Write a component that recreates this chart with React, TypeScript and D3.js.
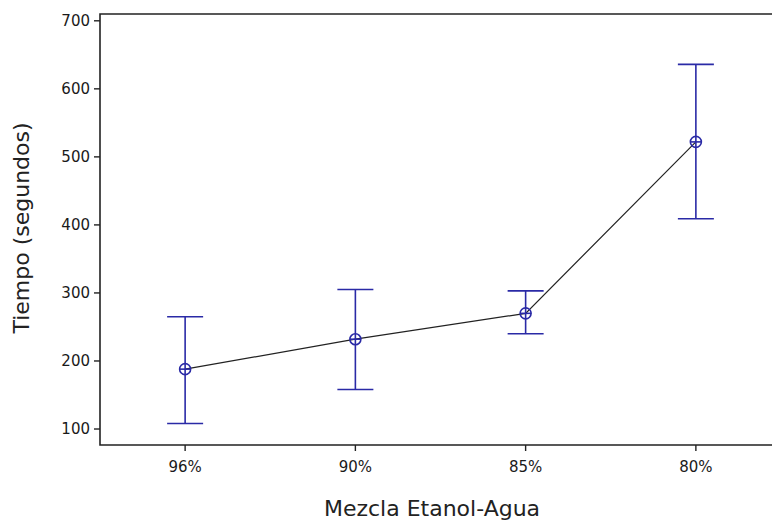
import * as d3 from "d3";

const mixes = ["96%", "90%", "85%", "80%"];
const means = [188, 232, 270, 522];
const upper = [265, 305, 303, 636];
const lower = [108, 158, 240, 409];
const yTicks = [100, 200, 300, 400, 500, 600, 700];

const W = 772;
const H = 521;
const margin = { top: 14, left: 100, bottom: 76 };
const font = "'DejaVu Sans', Verdana, sans-serif";
const blue = "#2a2aa6";

export default function App() {
  const x = d3
    .scaleBand()
    .domain(mixes)
    .range([margin.left, margin.left + 681])
    .padding(0);

  const y = d3
    .scaleLinear()
    .domain([76.5, 710])
    .range([H - margin.bottom, margin.top]);

  const cx = (m: string) => (x(m) ?? 0) + x.bandwidth() / 2;
  const bottom = H - margin.bottom;

  const line = d3
    .line<number>()
    .x((_, i) => cx(mixes[i]))
    .y((d) => y(d));

  return (
    <div style={{ position: "fixed", left: 0, top: 0 }}>
      <svg width={W} height={H} style={{ display: "block", background: "#fff" }}>
        {/* frame */}
        <path
          d={`M${W},${margin.top}H${margin.left}V${bottom}H${W}`}
          fill="none"
          stroke="#222"
          strokeWidth={1.6}
        />

        {/* y axis ticks */}
        {yTicks.map((t) => (
          <g key={t} transform={`translate(${margin.left},${y(t)})`}>
            <line x1={-6} x2={0} stroke="#222" strokeWidth={1.4} />
            <text
              x={-10}
              dy="0.36em"
              textAnchor="end"
              fontFamily={font}
              fontSize={15}
              fill="#1a1a1a"
            >
              {t}
            </text>
          </g>
        ))}

        {/* x axis ticks */}
        {mixes.map((m) => (
          <g key={m} transform={`translate(${cx(m)},${bottom})`}>
            <line y1={0} y2={6} stroke="#222" strokeWidth={1.4} />
            <text
              y={27}
              textAnchor="middle"
              fontFamily={font}
              fontSize={15}
              fill="#1a1a1a"
            >
              {m}
            </text>
          </g>
        ))}

        {/* mean line */}
        <path d={line(means) ?? ""} fill="none" stroke="#222" strokeWidth={1.2} />

        {/* error bars */}
        {mixes.map((m, i) => {
          const px = cx(m);
          return (
            <g key={m} stroke={blue} strokeWidth={1.6} fill="none">
              <line x1={px} x2={px} y1={y(upper[i])} y2={y(lower[i])} />
              <line x1={px - 18} x2={px + 18} y1={y(upper[i])} y2={y(upper[i])} />
              <line x1={px - 18} x2={px + 18} y1={y(lower[i])} y2={y(lower[i])} />
              <circle cx={px} cy={y(means[i])} r={5.5} />
              <line x1={px - 5.5} x2={px + 5.5} y1={y(means[i])} y2={y(means[i])} />
            </g>
          );
        })}

        {/* axis titles */}
        <text
          x={432}
          y={516}
          textAnchor="middle"
          fontFamily={font}
          fontSize={22}
          fill="#222"
        >
          Mezcla Etanol-Agua
        </text>
        <text
          transform={`translate(29,228) rotate(-90)`}
          textAnchor="middle"
          fontFamily={font}
          fontSize={22}
          fill="#222"
        >
          Tiempo (segundos)
        </text>
      </svg>
    </div>
  );
}
